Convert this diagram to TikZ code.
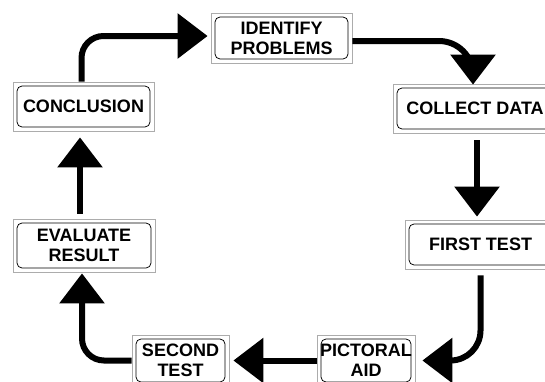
\documentclass[tikz,border=0pt]{standalone}
\usepackage{fontspec}
\setmainfont{Liberation Sans}
\usetikzlibrary{arrows.meta}
\tikzset{
  stepbox/.style={draw=gray!65, line width=0.8pt, fill=white, inner sep=0pt,
    align=center, font=\fontsize{18}{20}\selectfont\bfseries,
    path picture={\draw[black, line width=0.75pt, rounded corners=5pt]
      ([shift={(4pt,4pt)}]path picture bounding box.south west) rectangle
      ([shift={(-4pt,-4pt)}]path picture bounding box.north east);}},
  flow/.style={line width=6pt, -{Triangle[width=44pt,length=30pt]}}
}
\begin{document}
\begin{tikzpicture}[x=1pt,y=-1pt]
\useasboundingbox (0,0) rectangle (545,381);
\node[stepbox, minimum width=141pt, minimum height=50pt] (ident) at (281.5,38) {IDENTIFY\\PROBLEMS};
\node[stepbox, minimum width=164pt, minimum height=49pt] (coll) at (475,108.5) {COLLECT DATA};
\node[stepbox, minimum width=151pt, minimum height=49pt] (first) at (480.5,244.5) {FIRST TEST};
\node[stepbox, minimum width=98pt, minimum height=51pt] (pict) at (366,360.5) {PICTORAL\\AID};
\node[stepbox, minimum width=97pt, minimum height=51pt] (sec) at (180.5,360.5) {SECOND\\TEST};
\node[stepbox, minimum width=142pt, minimum height=53pt] (eval) at (84,245.5) {EVALUATE\\RESULT};
\node[stepbox, minimum width=141pt, minimum height=49pt] (conc) at (83.5,106.5) {CONCLUSION};

\draw[flow, rounded corners=22pt, shorten >=3pt] ([xshift=-2pt]conc.north) |- ([yshift=2pt]ident.west);
\draw[flow, rounded corners=34pt, shorten >=-1pt] ([yshift=-3pt]ident.east) -| ([xshift=-2pt]coll.north);
\draw[flow, shorten <=7pt, shorten >=3pt] ([xshift=2pt]coll.south) -- ([xshift=2pt]coll.south |- first.north);
\draw[flow, rounded corners=30pt, shorten <=6pt, shorten >=7pt] (first.south) |- (pict.east);
\draw[flow, shorten >=4pt] (pict.west) -- (sec.east);
\draw[flow, rounded corners=22pt, shorten >=1pt] (sec.west) -| ([xshift=-2pt]eval.south);
\draw[flow, shorten <=5pt, shorten >=6pt] ([xshift=-4pt]eval.north) -- ([xshift=-4pt]eval.north |- conc.south);
\end{tikzpicture}
\end{document}
